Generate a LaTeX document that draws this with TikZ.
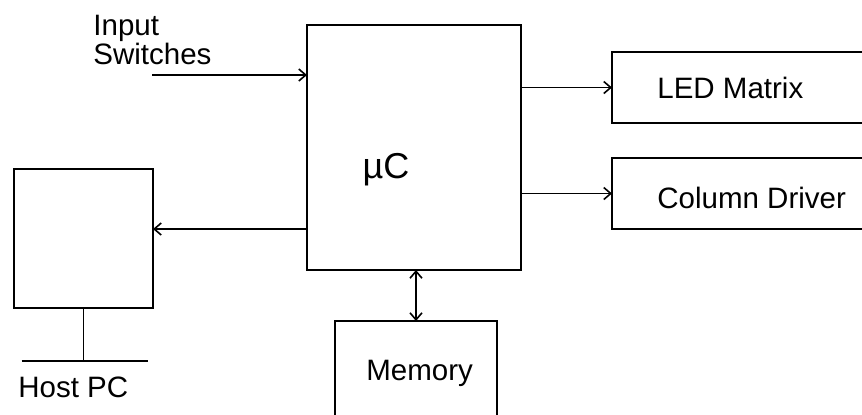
\documentclass[tikz,border=0pt]{standalone}
\usepackage{fontspec}
\setmainfont{Liberation Sans}
\usetikzlibrary{arrows.meta,positioning}
\tikzset{
 >={Straight Barb[length=3.5pt,width=6pt]},
 bd box/.style={draw,line width=.9pt,inner sep=0pt,outer sep=0pt,anchor=north west},
 bd link/.style={line width=.8pt,->},
 bd wire/.style={line width=.8pt},
 bd label/.style={font=\fontsize{14.75}{14.5}\selectfont,inner sep=0pt}
}
\begin{document}
\begin{tikzpicture}[x=.5pt,y=-.5pt]
 \path[use as bounding box,clip] (0,0) rectangle (862,414);
 \node[bd box,minimum width=107pt,minimum height=122.5pt] (mc) at (307,25) {};
 \node[bd box,minimum width=69.5pt,minimum height=69.5pt] (host) at (14,169) {};
 \node[bd box,minimum width=81pt,minimum height=75pt] (mem) at (335,321) {};
 \foreach \n/\y/\b/\t in {led/52/23/LED Matrix,col/158/25/Column Driver}{
   \node[bd box,minimum width=150pt,minimum height=35.5pt] (\n) at (612,\y) {};
   \node[bd label,anchor=base west] (\n text)
     at ([xshift=22.5pt,yshift=-\b pt]\n.north west) {\t};
   \draw[bd link] (mc.east |- \n) -- (\n);
 }
 \node[bd label,font=\fontsize{18}{18}\selectfont,anchor=base] (mc text) at (386,178) {µC};
 \node[bd label,anchor=base west] (mem text) at (366,380) {Memory};
 \node[bd label,anchor=base west] (host text) at (18,397) {Host PC};
 \node[bd label,align=left,anchor=north west] (sw text) at (93,15) {Input\\Switches};
 \coordinate (sw in) at (152,75);
 \draw[bd link] (sw in) -- (mc.west |- sw in);
 \coordinate (pc link) at (0,229);
 \draw[bd link] (mc.west |- pc link) -- (host.east |- pc link);
 \draw[bd link,<->] (mem.north) -- (mem.north |- mc.south);
 \coordinate (gnd) at ([yshift=-26.5pt]host.south);
 \draw[bd wire] (host.south) -- (gnd);
 \draw[bd wire] ([xshift=-31pt]gnd) -- ([xshift=32pt]gnd);
\end{tikzpicture}
\end{document}
